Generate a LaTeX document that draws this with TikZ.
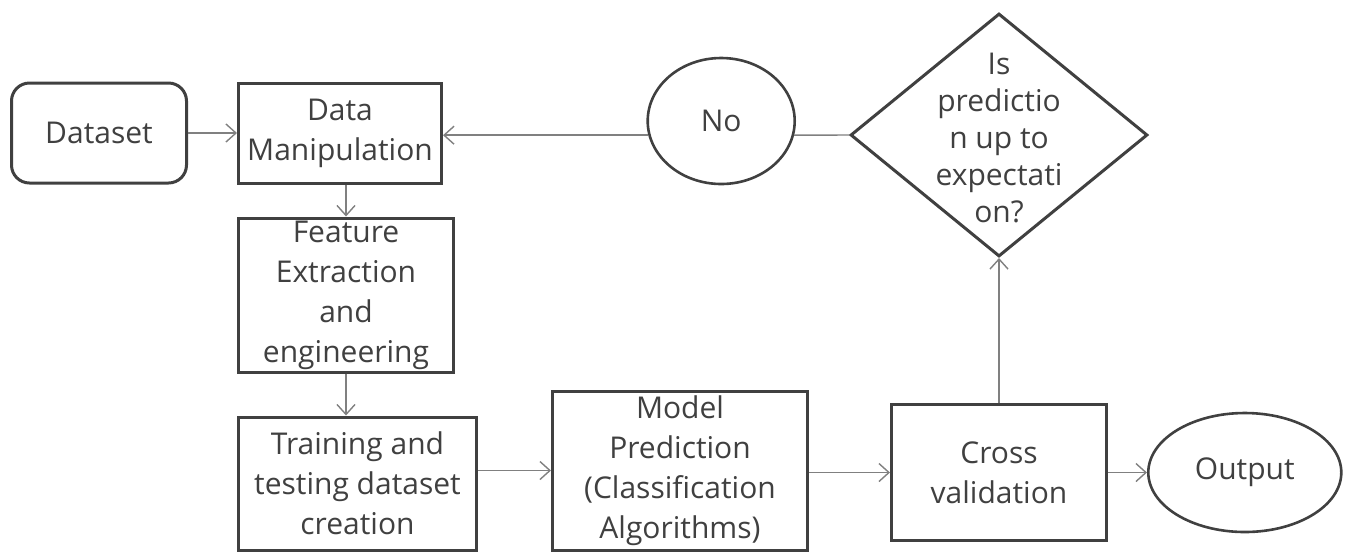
\documentclass[tikz,border=0pt]{standalone}
\usepackage{fontspec}
\setmainfont{Open Sans}
\usetikzlibrary{positioning,arrows.meta,shapes.geometric}
\definecolor{boxgray}{HTML}{404040}
\definecolor{linegray}{HTML}{808080}
\tikzstyle{pbox}=[rectangle, draw=boxgray, line width=1.5pt, text=boxgray,
                  inner sep=0pt, align=center, font=\fontsize{15}{20}\selectfont]
\tikzstyle{rbox}=[pbox, rounded corners=9pt]
\tikzstyle{obox}=[ellipse, draw=boxgray, line width=1.3pt, text=boxgray,
                  inner sep=0pt, font=\fontsize{15}{20}\selectfont]
\tikzstyle{dbox}=[diamond, draw=boxgray, line width=1.5pt, inner sep=0pt, aspect=1.22]
\tikzstyle{dtext}=[text=boxgray, align=center, font=\fontsize{15}{18.5}\selectfont]
\tikzstyle{pline}=[-{Straight Barb[length=5pt,width=9pt]}, draw=linegray, line width=0.7pt]
\begin{document}
\begin{tikzpicture}[node distance=0mm]
\useasboundingbox (0,0) rectangle (674.5pt,-277pt);

\node (DATASET) [rbox, minimum width=87.5pt, minimum height=50pt] at (49.5pt,-66.5pt) {Dataset};
\node (DATAMAN) [pbox, minimum width=101.5pt, minimum height=50pt,
  right=24.5pt of DATASET] {Data\\Manipulation};
 \draw[pline] (DATASET.east) -- (DATAMAN.west);
\node (FEAT) [pbox, minimum width=107.5pt, minimum height=77pt,
  below right=16pt and 0pt of DATAMAN.south west] {Feature\\Extraction\\and\\engineering};
 \draw[pline] (DATAMAN.south -| FEAT.north) -- (FEAT.north);
\node (TRAIN) [pbox, minimum width=119pt, minimum height=66.5pt,
  below right=21pt and 0pt of FEAT.south west] {Training and\\testing dataset\\creation};
 \draw[pline] (FEAT.south) -- (FEAT.south |- TRAIN.north);
\node (MODEL) [pbox, minimum width=127.5pt, minimum height=79.5pt,
  right=36.5pt of TRAIN.east, yshift=6.5pt] {Model\\Prediction\\(Classification\\Algorithms)};
 \draw[pline] (MODEL.west -| TRAIN.east) -- (MODEL.west);
\node (CROSS) [pbox, minimum width=107.5pt, minimum height=68pt,
  right=40.5pt of MODEL, yshift=-1pt] {Cross\\validation};
 \draw[pline] (MODEL.east |- CROSS.west) -- (CROSS.west);
\node (OUTPUT) [obox, minimum width=96.5pt, minimum height=59.5pt,
  right=19.5pt of CROSS] {Output};
 \draw[pline] (CROSS.east) -- (OUTPUT.west);
\node (CHECK) [dbox, minimum width=148.5pt, minimum height=121.5pt,
  above=72.5pt of CROSS] {};
\node (CHECKTXT) [dtext] at ([yshift=-1.5pt]CHECK.center) {Is\\predictio\\n up to\\expectati\\on?};
 \draw[pline] (CROSS.north) -- (CHECK.south);
\node (NO) [obox, minimum width=73.5pt, minimum height=63pt,
  left=26.5pt of CHECK.west, yshift=7pt] {No};
 \draw[pline, -] (CHECK.west) -- (NO.-11);
 \draw[pline] (NO.191) -- (NO.191 -| DATAMAN.east);

\end{tikzpicture}
\end{document}
